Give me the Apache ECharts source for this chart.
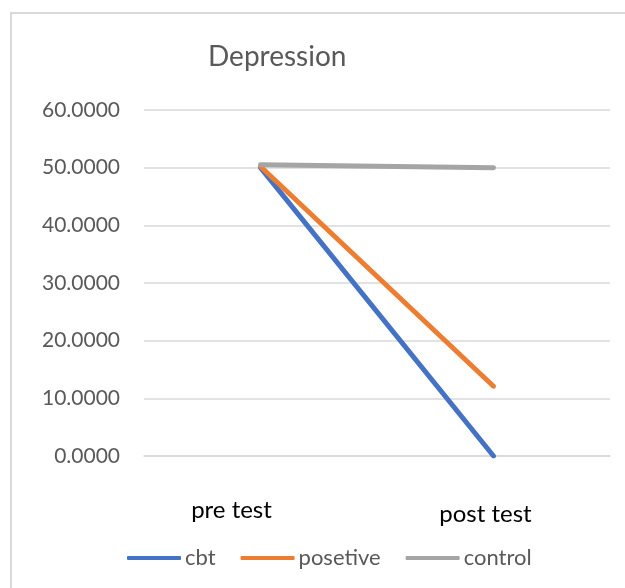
<!DOCTYPE html>
<html>
<head>
<meta charset="utf-8">
<script src="https://cdn.jsdelivr.net/npm/echarts@6/dist/echarts.min.js"></script>
<style>
  html, body { margin: 0; padding: 0; background: #fff; }
  #chart { width: 625px; height: 588px; }
</style>
</head>
<body>
<div id="chart"></div>
<script>
const categories = ["pre test", "post test"];
const cbt = [50.0, 0];
const posetive = [50.2, 12.1];
const control = [50.5, 50.0];
const seriesNames = ["cbt", "posetive", "control"];
const colors = ["#4472C4", "#ED7D31", "#A5A5A5"];

const chart = echarts.init(document.getElementById("chart"));
const font = "Lato, 'Open Sans', sans-serif";

const makeLine = (name, data, color) => ({
  name,
  type: "line",
  data,
  symbol: "none",
  color,
  lineStyle: { width: 5, color, cap: "round" },
});

const catText = { fontFamily: font, fontSize: 24, color: "#000" };

chart.setOption({
  backgroundColor: "#fff",
  animation: false,
  textStyle: { fontFamily: font },
  graphic: [
    {
      type: "rect",
      shape: { x: 11, y: 13, width: 700, height: 700 },
      style: { fill: "none", stroke: "#d9d9d9", lineWidth: 2 },
      silent: true,
    },
  ],
  title: {
    text: "Depression",
    left: 203,
    top: 38,
    textStyle: { fontFamily: font, fontSize: 28, fontWeight: "normal", color: "#595959" },
  },
  legend: {
    data: seriesNames,
    left: 122,
    top: 542,
    icon: "roundRect",
    itemWidth: 54,
    itemHeight: 4,
    itemGap: 25,
    textStyle: { fontFamily: font, fontSize: 22, color: "#595959", padding: [0, 0, 0, -1] },
  },
  grid: { left: 144, right: 15, top: 110, bottom: 132 },
  xAxis: {
    type: "category",
    data: categories,
    axisLine: { lineStyle: { color: "#d9d9d9", width: 1.5 } },
    axisTick: { show: false },
    axisLabel: {
      margin: 42,
      formatter: (v, i) => (i === 0 ? "{a|" + v + "}" : "{b|" + v + "}"),
      rich: {
        a: Object.assign({ padding: [0, 58, 0, 0] }, catText),
        b: Object.assign({ padding: [4, 16, 0, 0] }, catText),
      },
    },
  },
  yAxis: {
    type: "value",
    min: 0,
    max: 60,
    interval: 10,
    axisLine: { show: false },
    axisTick: { show: false },
    splitLine: { lineStyle: { color: "#d9d9d9", width: 1.5 } },
    axisLabel: {
      fontFamily: font,
      fontSize: 21,
      color: "#595959",
      margin: 24,
      formatter: (v) => v.toFixed(4),
    },
  },
  series: [
    makeLine(seriesNames[0], cbt, colors[0]),
    makeLine(seriesNames[1], posetive, colors[1]),
    makeLine(seriesNames[2], control, colors[2]),
  ],
});
</script>
</body>
</html>
